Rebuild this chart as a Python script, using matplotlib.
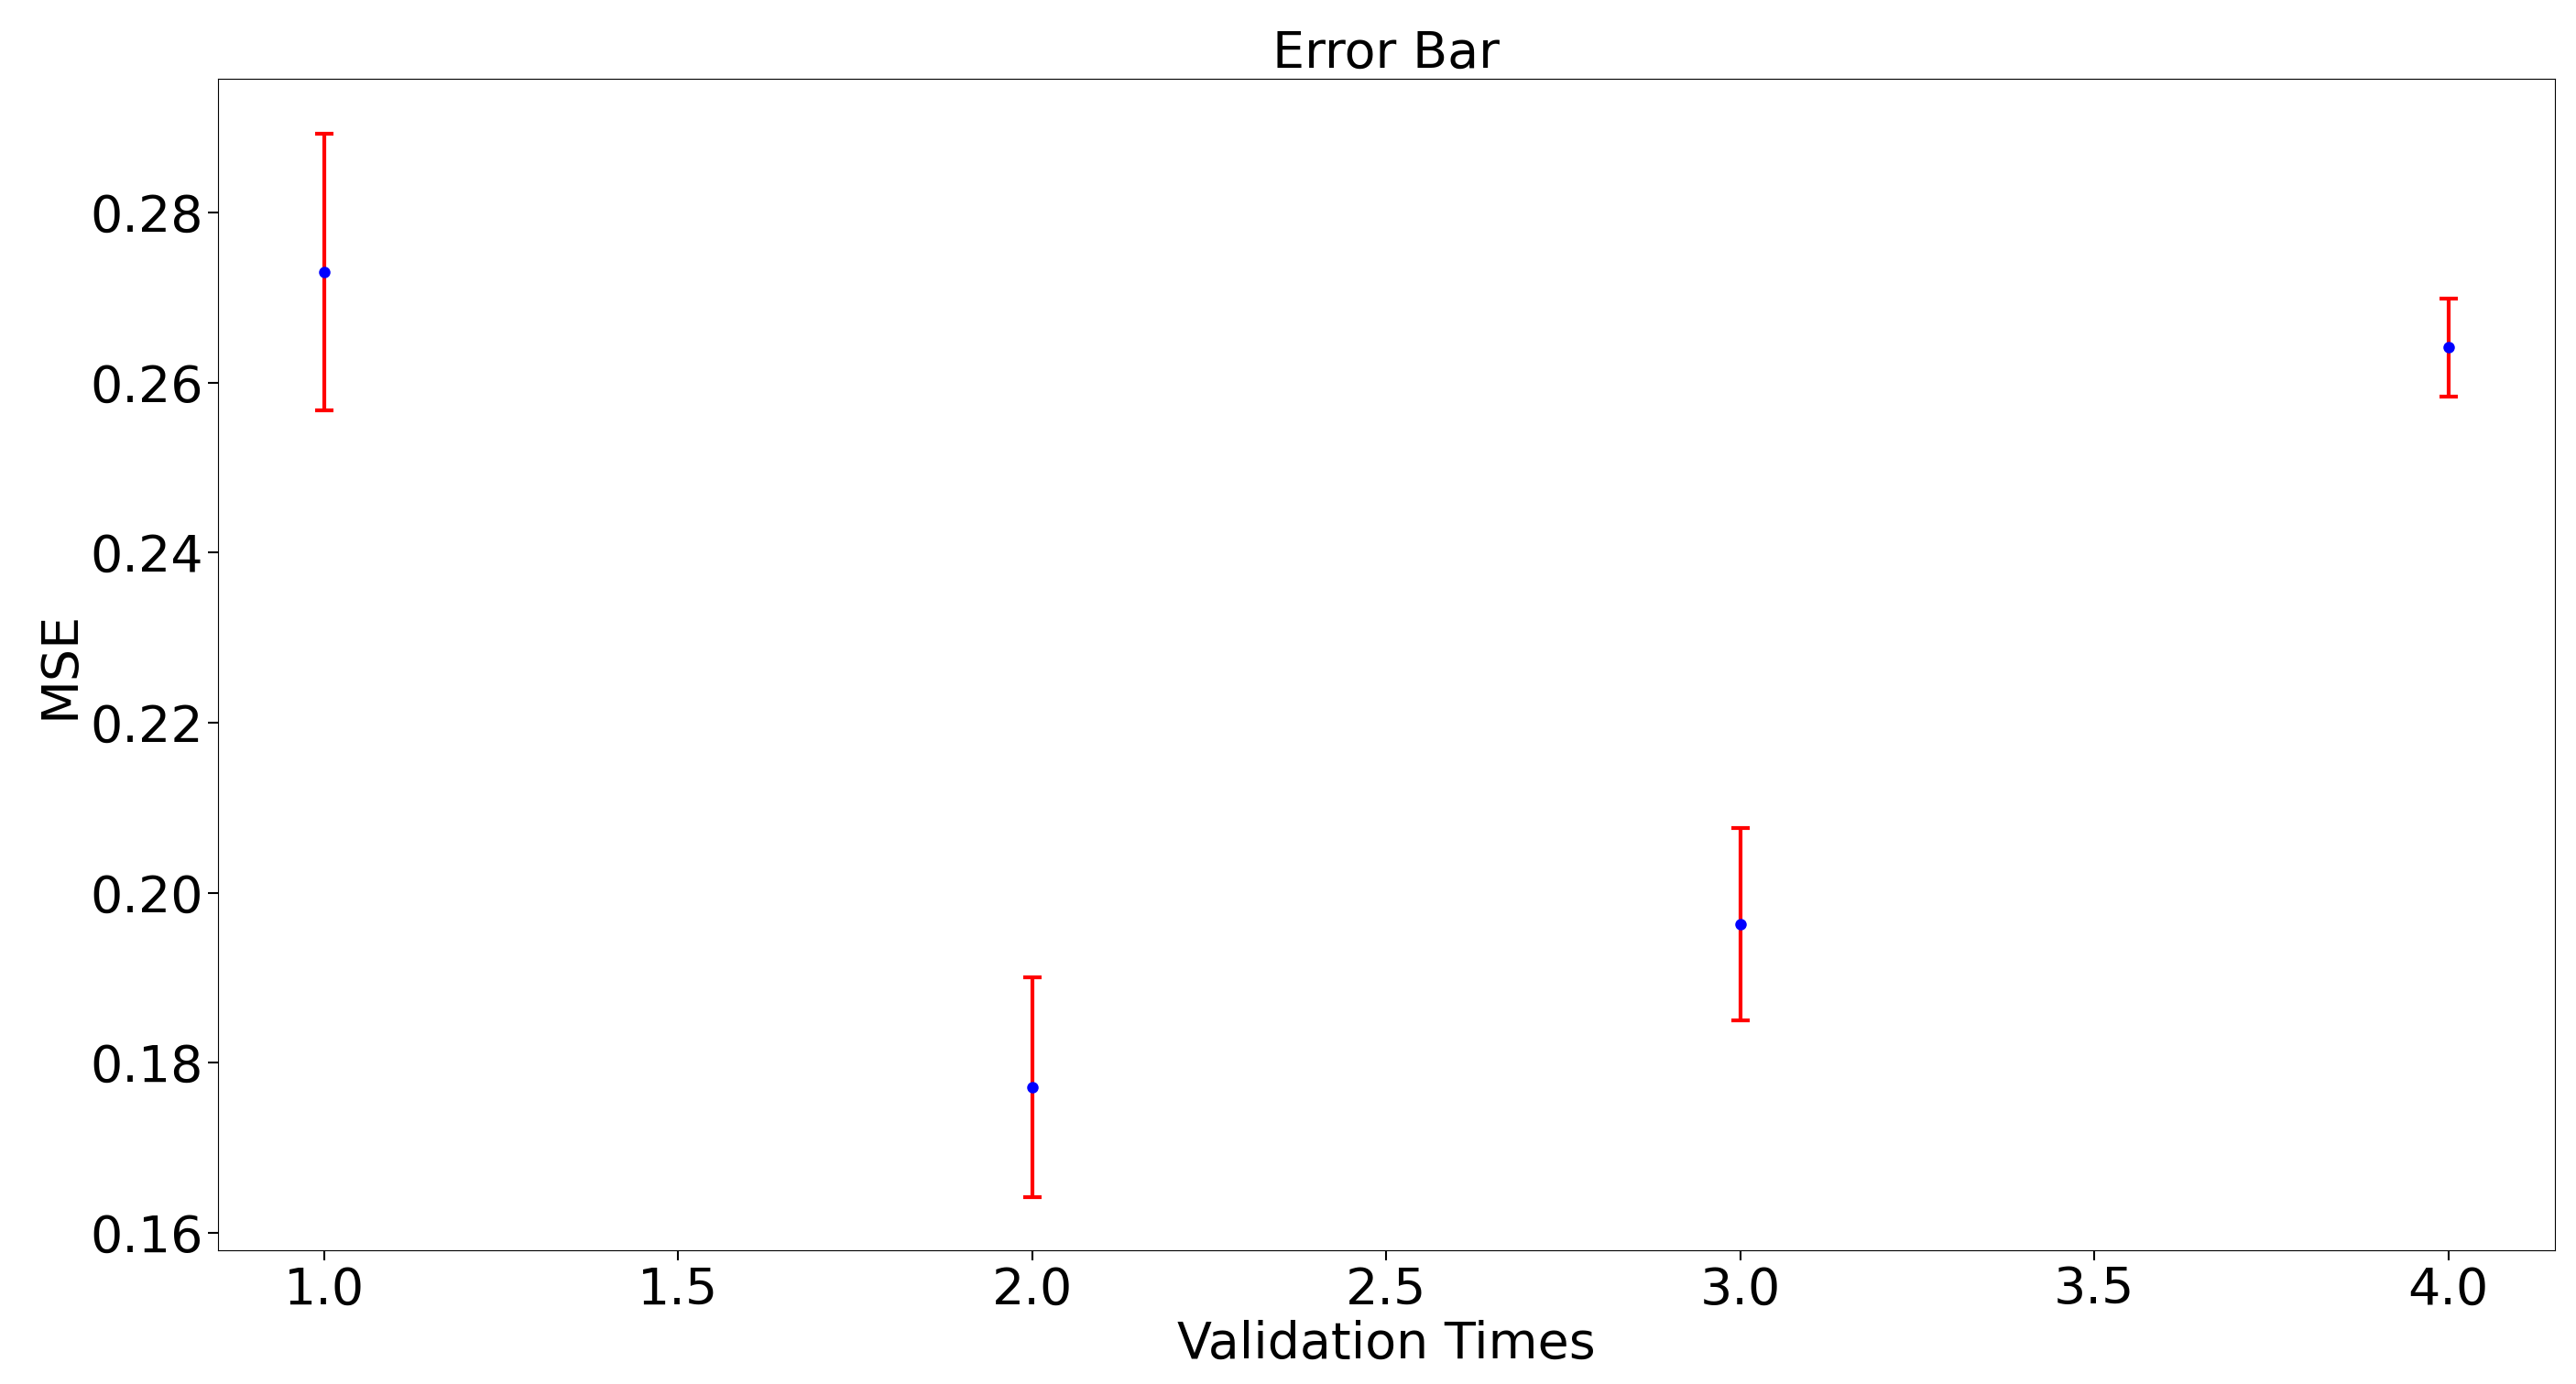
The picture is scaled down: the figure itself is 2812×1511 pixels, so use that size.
import matplotlib
matplotlib.use('Agg')
import matplotlib.pyplot as plt

times = [1, 2, 3, 4]
mse = [0.2730, 0.1771, 0.1963, 0.2641]
err = [0.0163, 0.0129, 0.0113, 0.0058]

fig = plt.figure(figsize=(28.12, 15.11), dpi=100)
ax = fig.add_axes([0.0846, 0.0964, 0.9071, 0.8466])
ax.errorbar(times, mse, yerr=err, fmt='o', color='blue', ecolor='red',
            elinewidth=3, capsize=7, capthick=3, markersize=8)
ax.set_title('Error Bar', fontsize=40)
ax.set_xlabel('Validation Times', fontsize=40)
ax.set_ylabel('MSE', fontsize=40)
ax.tick_params(labelsize=40, length=8, width=1.5)
ax.set_ylim(0.1579, 0.2957)
plt.savefig('out.png')
